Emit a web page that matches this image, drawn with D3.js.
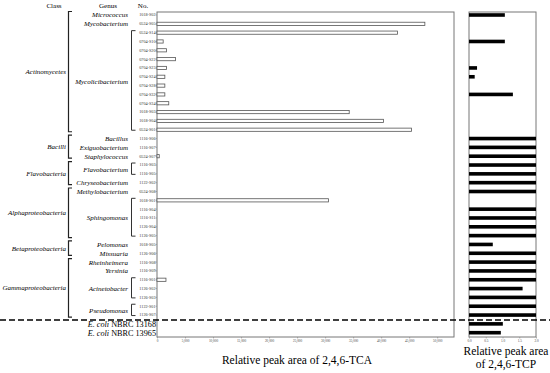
<!DOCTYPE html>
<html><head><meta charset="utf-8">
<script src="https://cdn.jsdelivr.net/npm/d3@7/dist/d3.min.js"></script>
<style>body{margin:0;background:#fff}svg{display:block}text{font-family:"Liberation Serif","Times New Roman",serif}</style>
</head><body><svg id="c" width="550" height="373"></svg>
<script>
const strainIds = ["1018-S02","0524-S05","0524-S14","0704-S10","0704-S20","0704-S22","0704-S23","0704-S24","0704-S28","0704-S32","0704-S34","1018-S03","1018-S04","0524-S01","1116-S06","1116-S07","0524-S07","1116-S03","1116-S05","1122-S02","0524-S08","1018-S01","1116-S04","1116-S11","1126-S04","1126-S05","1018-S05","1126-S06","1116-S08","1116-S09","1116-S01","1126-S02","1126-S03","1122-S01","1126-S07","NBRC 13168","NBRC 13965"];
const tcaValues = [0,47800,42900,1100,1700,3300,1700,1400,1400,1400,2100,34300,40400,45400,0,0,400,0,0,0,0,30600,0,0,0,0,0,0,0,0,1600,0,0,0,0,0,0];
const tcpValues = [1.07,0,0,1.07,0,0,0.24,0.17,0,1.31,0,0,0,0,2.0,2.0,2.0,2.0,2.0,2.0,2.0,0,2.0,2.0,2.0,2.0,0.71,2.0,2.0,2.0,2.0,1.6,2.0,2.0,2.0,1.01,0.95];
const classNames = ["Actinomycetes","Bacilli","Flavobacteria","Alphaproteobacteria","Betaproteobacteria","Gammaproteobacteria"];
const classStart = [0,14,17,20,26,28];
const classEnd = [13,16,19,25,27,34];
const genusNames = ["Micrococcus","Mycobacterium","Mycolicibacterium","Bacillus","Exiguobacterium","Staphylococcus","Flavobacterium","Chryseobacterium","Methylobacterium","Sphingomonas","Pelomonas","Missuaria","Rheinheimera","Yersinia","Acinetobacter","Pseudomonas"];
const genusStart = [0,1,2,14,15,16,17,19,20,21,26,27,28,29,30,33];
const genusEnd = [0,1,13,14,15,16,18,19,20,25,26,27,28,29,32,34];
const tcaTicks = [0,5000,10000,15000,20000,25000,30000,35000,40000,45000,50000];
const tcpTicks = [0,0.5,1.0,1.5,2.0];

const svg = d3.select("#c");
const y = d3.scalePoint().domain(d3.range(strainIds.length)).range([15, 332.7]);
const xTca = d3.scaleLinear().domain([0, 53000]).range([157, 454]);
const xTcp = d3.scaleLinear().domain([0, 2.0]).range([469, 536]);
const boxTop = 12, boxBot = 337;

// headers
svg.append("text").attr("x",54).attr("y",8).attr("text-anchor","middle").attr("font-size",7).text("Class");
svg.append("text").attr("x",108).attr("y",8).attr("text-anchor","middle").attr("font-size",7).text("Genus");
svg.append("text").attr("x",143).attr("y",8).attr("text-anchor","middle").attr("font-size",7).text("No.");

// panel frames
svg.append("rect").attr("x",xTca.range()[0]).attr("y",boxTop).attr("width",xTca.range()[1]-xTca.range()[0]).attr("height",boxBot-boxTop).attr("fill","none").attr("stroke","#777").attr("stroke-width",1);
svg.append("rect").attr("x",xTcp.range()[0]).attr("y",boxTop).attr("width",xTcp.range()[1]-xTcp.range()[0]).attr("height",boxBot-boxTop).attr("fill","none").attr("stroke","#777").attr("stroke-width",1);

// TCA bars
svg.append("g").selectAll("rect").data(tcaValues.map((v,i)=>({v,i})).filter(d=>d.v>0)).join("rect")
  .attr("x",xTca(0)).attr("y",d=>y(d.i)-1.6).attr("width",d=>xTca(d.v)-xTca(0)).attr("height",3.2)
  .attr("fill","#fff").attr("stroke","#555").attr("stroke-width",0.8);
// TCP bars
svg.append("g").selectAll("rect").data(tcpValues.map((v,i)=>({v,i})).filter(d=>d.v>0)).join("rect")
  .attr("x",xTcp(0)).attr("y",d=>y(d.i)-1.8).attr("width",d=>xTcp(d.v)-xTcp(0)).attr("height",3.6)
  .attr("fill","#000");

// strain labels
svg.append("g").selectAll("text").data(strainIds.slice(0,35)).join("text")
  .attr("x",155.5).attr("y",(d,i)=>y(i)+1.4).attr("text-anchor","end").attr("font-size",4.2).attr("fill","#333").text(d=>d);
// left axis ticks
svg.append("g").selectAll("line").data(d3.range(35)).join("line")
  .attr("x1",155.5).attr("x2",157).attr("y1",i=>y(i)).attr("y2",i=>y(i)).attr("stroke","#777").attr("stroke-width",0.5);

// E. coli labels
[35,36].forEach(i=>{
  const t = svg.append("text").attr("x",156).attr("y",y(i)+3).attr("text-anchor","end").attr("font-size",8.2);
  t.append("tspan").attr("font-style","italic").text("E. coli ");
  t.append("tspan").text(strainIds[i]);
});

// genus labels & brackets
genusNames.forEach((g,k)=>{
  const ym = (y(genusStart[k])+y(genusEnd[k]))/2;
  svg.append("text").attr("x",128).attr("y",ym+2.4).attr("text-anchor","end").attr("font-size",7).attr("font-style","italic").text(g);
  if (genusEnd[k]>genusStart[k]) {
    const y0 = y(genusStart[k])-2, y1 = y(genusEnd[k])+0.5;
    svg.append("path").attr("d",`M135.5,${y0}H131.5V${y1}H135.5`).attr("fill","none").attr("stroke","#333").attr("stroke-width",1);
  }
});

// class labels & brackets
classNames.forEach((c,k)=>{
  const y0 = y(classStart[k])-3.5, y1 = y(classEnd[k])+2;
  svg.append("path").attr("d",`M72,${y0}H68.5V${y1}H72`).attr("fill","none").attr("stroke","#222").attr("stroke-width",1.2);
  svg.append("text").attr("x",66).attr("y",(y0+y1)/2+2.4).attr("text-anchor","end").attr("font-size",7).attr("font-style","italic").text(c);
});

// dashed separator
svg.append("line").attr("x1",0).attr("x2",550).attr("y1",320).attr("y2",320).attr("stroke","#000").attr("stroke-width",1.5).attr("stroke-dasharray","6,3");

// x axes (tiny tick labels)
const gA = svg.append("g").attr("transform",`translate(0,${boxBot})`)
  .call(d3.axisBottom(xTca).tickValues(tcaTicks).tickFormat(d3.format(",")).tickSize(1.5).tickPadding(1));
gA.select(".domain").remove();
gA.selectAll("text").attr("font-size",3.4).attr("fill","#444").attr("font-family","Liberation Serif");
gA.selectAll("line").attr("stroke","#777").attr("stroke-width",0.5);
const gB = svg.append("g").attr("transform",`translate(0,${boxBot})`)
  .call(d3.axisBottom(xTcp).tickValues(tcpTicks).tickFormat(d3.format(".1f")).tickSize(1.5).tickPadding(1));
gB.select(".domain").remove();
gB.selectAll("text").attr("font-size",3.4).attr("fill","#444").attr("font-family","Liberation Serif");
gB.selectAll("line").attr("stroke","#777").attr("stroke-width",0.5);

// axis titles
svg.append("text").attr("x",297).attr("y",364).attr("text-anchor","middle").attr("font-size",11.5).text("Relative peak area of 2,4,6-TCA");
svg.append("text").attr("x",506).attr("y",355).attr("text-anchor","middle").attr("font-size",11.5).text("Relative peak area");
svg.append("text").attr("x",506).attr("y",368).attr("text-anchor","middle").attr("font-size",11.5).text("of 2,4,6-TCP");
</script></body></html>
